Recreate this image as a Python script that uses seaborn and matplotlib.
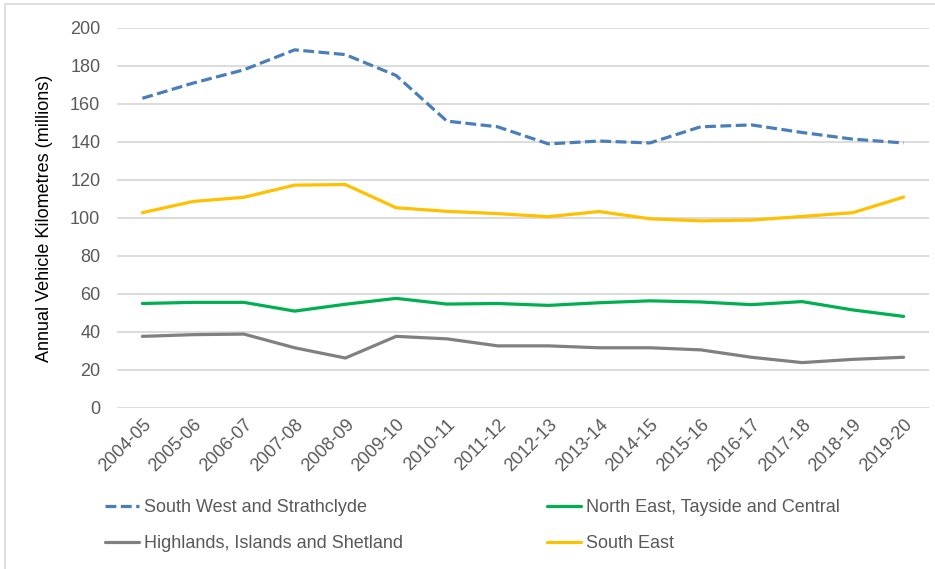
import matplotlib
matplotlib.use("Agg")
import matplotlib.pyplot as plt
import seaborn as sns
import pandas as pd
from matplotlib.patches import Rectangle

periods = ["2004-05", "2005-06", "2006-07", "2007-08", "2008-09", "2009-10",
           "2010-11", "2011-12", "2012-13", "2013-14", "2014-15", "2015-16",
           "2016-17", "2017-18", "2018-19", "2019-20"]

south_west = [163, 171, 178, 188.5, 186, 175, 151, 148, 139, 140.5, 139.5,
              148, 149, 145, 141.5, 139.5]
north_east = [55, 55.6, 55.6, 51, 54.6, 57.7, 54.7, 55, 54, 55.4, 56.4,
              55.8, 54.4, 56, 51.6, 48.2]
highlands = [37.7, 38.6, 38.9, 31.7, 26.3, 37.7, 36.4, 32.7, 32.7, 31.7,
             31.7, 30.6, 26.7, 23.9, 25.6, 26.7]
south_east = [102.8, 108.7, 110.9, 117.3, 117.6, 105.4, 103.5, 102.3, 100.7,
              103.4, 99.6, 98.5, 98.9, 100.8, 102.8, 111]

series_names = ["South West and Strathclyde", "North East, Tayside and Central",
                "Highlands, Islands and Shetland", "South East"]
y_ticks = [0, 20, 40, 60, 80, 100, 120, 140, 160, 180, 200]

sns.set_theme(style="white")
plt.rcParams["font.family"] = ["Liberation Sans", "DejaVu Sans"]

FS = 13

fig = plt.figure(figsize=(9.35, 5.69), dpi=100)
ax = fig.add_axes([117 / 935, 1 - 408 / 569, (929 - 117) / 935, (408 - 28) / 569])

styles = {
    "South West and Strathclyde": dict(color="#4a7ebb", dashes=(3.4, 1.4)),
    "North East, Tayside and Central": dict(color="#00b050"),
    "Highlands, Islands and Shetland": dict(color="#808080"),
    "South East": dict(color="#ffc000"),
}
values = dict(zip(series_names, [south_west, north_east, highlands, south_east]))

lines = {}
for name in series_names:
    df = pd.DataFrame({"period": periods, "value": values[name]})
    st = styles[name]
    sns.lineplot(data=df, x="period", y="value", ax=ax, color=st["color"],
                 linewidth=2.3, label=name, legend=False, sort=False)
    ln = ax.lines[-1]
    if "dashes" in st:
        ln.set_dashes(st["dashes"])
    ln.set_solid_capstyle("round")
    ln.set_dash_capstyle("butt")
    lines[name] = ln

ax.set_xlim(-0.5, len(periods) - 0.5)
ax.set_ylim(0, 200)
ax.set_yticks(y_ticks)
ax.set_xticks(range(len(periods)))
ax.set_xticklabels(periods, rotation=45, ha="right", rotation_mode="anchor")
ax.tick_params(axis="both", colors="#595959", labelsize=FS, length=0)
ax.tick_params(axis="y", pad=12)
ax.tick_params(axis="x", pad=6)
ax.yaxis.grid(True, color="#d9d9d9", linewidth=1.3)
ax.set_axisbelow(True)
for sp in ax.spines.values():
    sp.set_visible(False)
ax.set_xlabel("")
ax.set_ylabel("Annual Vehicle Kilometres (millions)", fontsize=FS,
              color="#000000", labelpad=12)

order = ["South West and Strathclyde", "Highlands, Islands and Shetland",
         "North East, Tayside and Central", "South East"]
leg = fig.legend([lines[n] for n in order], order, loc="upper left",
                 bbox_to_anchor=(89 / 935, 1 - 483 / 569), ncol=2,
                 frameon=False, fontsize=FS, handlelength=1.85,
                 handletextpad=0.28, columnspacing=8.0, labelspacing=1.05)
for t in leg.get_texts():
    t.set_color("#595959")

# chart area frame along the top and left edges
fig.patches.append(Rectangle((5 / 935, -0.1), 1.2, 1 - 4 / 569 + 0.1,
                             transform=fig.transFigure, fill=False,
                             edgecolor="#d9d9d9", linewidth=1.2))

fig.savefig("out.png", dpi=100)
